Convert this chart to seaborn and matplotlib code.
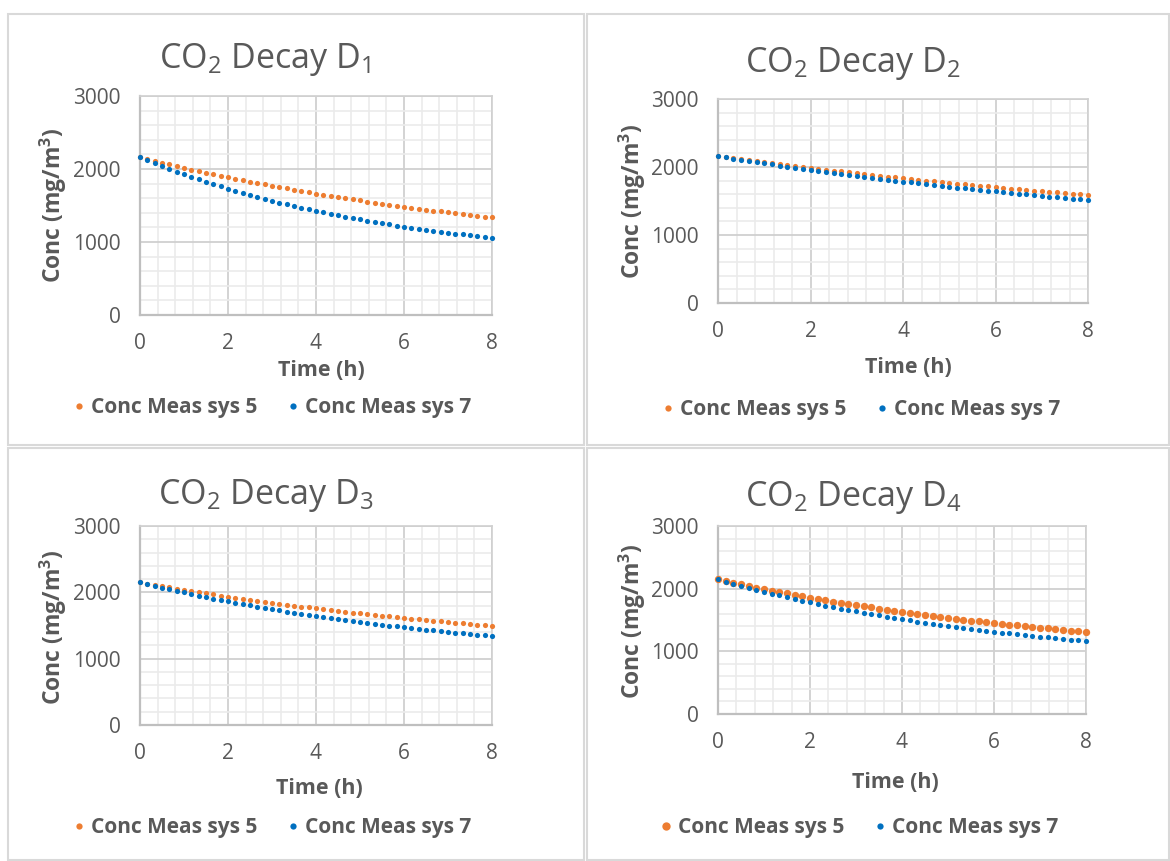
import matplotlib
matplotlib.use("Agg")
import matplotlib.pyplot as plt
from matplotlib.ticker import MultipleLocator
from matplotlib.patches import Rectangle
from matplotlib.lines import Line2D
import seaborn as sns
import pandas as pd

# ---------------- data ----------------
time_min = [0, 10, 20, 30, 40, 50, 60, 70, 80, 90, 100, 110, 120, 130, 140, 150,
            160, 170, 180, 190, 200, 210, 220, 230, 240, 250, 260, 270, 280, 290,
            300, 310, 320, 330, 340, 350, 360, 370, 380, 390, 400, 410, 420, 430,
            440, 450, 460, 470, 480]

d1_sys5 = [2160, 2135, 2110, 2086, 2062, 2039, 2016, 1993, 1971, 1949, 1928, 1907, 1886,
           1866, 1846, 1826, 1807, 1788, 1769, 1751, 1733, 1715, 1698, 1681, 1664, 1647,
           1631, 1615, 1599, 1584, 1569, 1554, 1539, 1525, 1511, 1497, 1483, 1470, 1456,
           1443, 1431, 1418, 1406, 1394, 1382, 1370, 1359, 1347, 1336]
d1_sys7 = [2160, 2118, 2078, 2039, 2001, 1963, 1927, 1892, 1858, 1825, 1793, 1762, 1731,
           1702, 1673, 1645, 1618, 1592, 1566, 1541, 1517, 1494, 1471, 1449, 1427, 1406,
           1386, 1366, 1347, 1328, 1310, 1292, 1275, 1258, 1242, 1226, 1211, 1196, 1182,
           1168, 1154, 1141, 1128, 1116, 1103, 1092, 1080, 1069, 1058]

d2_sys5 = [2160, 2145, 2129, 2114, 2099, 2085, 2070, 2056, 2042, 2028, 2014, 2000, 1986,
           1973, 1960, 1947, 1934, 1921, 1908, 1896, 1883, 1871, 1859, 1847, 1835, 1823,
           1812, 1801, 1789, 1778, 1767, 1756, 1745, 1735, 1724, 1714, 1704, 1693, 1683,
           1674, 1664, 1654, 1644, 1635, 1626, 1616, 1607, 1598, 1589]
d2_sys7 = [2160, 2142, 2124, 2106, 2089, 2072, 2055, 2038, 2022, 2006, 1989, 1974, 1958,
           1943, 1927, 1912, 1898, 1883, 1869, 1854, 1840, 1827, 1813, 1799, 1786, 1773,
           1760, 1747, 1735, 1722, 1710, 1698, 1686, 1674, 1662, 1651, 1640, 1629, 1618,
           1607, 1596, 1585, 1575, 1564, 1554, 1544, 1534, 1524, 1515]

d3_sys5 = [2151, 2131, 2112, 2093, 2074, 2056, 2038, 2020, 2002, 1985, 1968, 1952, 1935,
           1919, 1903, 1888, 1872, 1857, 1843, 1828, 1814, 1800, 1786, 1772, 1759, 1746,
           1733, 1720, 1707, 1695, 1683, 1671, 1659, 1648, 1637, 1626, 1615, 1604, 1593,
           1583, 1573, 1563, 1553, 1543, 1534, 1524, 1515, 1506, 1497]
d3_sys7 = [2151, 2124, 2098, 2072, 2047, 2022, 1998, 1975, 1951, 1929, 1907, 1885, 1864,
           1843, 1823, 1803, 1784, 1765, 1746, 1728, 1710, 1693, 1676, 1659, 1643, 1627,
           1611, 1596, 1581, 1566, 1552, 1538, 1524, 1511, 1498, 1485, 1473, 1460, 1448,
           1437, 1425, 1414, 1403, 1392, 1382, 1371, 1361, 1351, 1342]

d4_sys5 = [2147, 2120, 2094, 2068, 2043, 2018, 1994, 1970, 1946, 1923, 1901, 1879, 1857,
           1836, 1816, 1795, 1775, 1756, 1737, 1718, 1700, 1682, 1664, 1647, 1630, 1613,
           1597, 1581, 1566, 1550, 1535, 1521, 1506, 1492, 1478, 1465, 1451, 1438, 1425,
           1413, 1401, 1389, 1377, 1365, 1354, 1343, 1332, 1321, 1311]
d4_sys7 = [2147, 2112, 2078, 2045, 2013, 1982, 1951, 1921, 1892, 1863, 1836, 1809, 1782,
           1756, 1731, 1707, 1683, 1660, 1637, 1615, 1594, 1573, 1552, 1532, 1513, 1494,
           1475, 1457, 1440, 1423, 1406, 1389, 1374, 1358, 1343, 1328, 1314, 1300, 1286,
           1273, 1260, 1247, 1235, 1222, 1211, 1199, 1188, 1177, 1167]

titles = [r"CO$_\mathregular{2}$ Decay D$_\mathregular{1}$",
          r"CO$_\mathregular{2}$ Decay D$_\mathregular{2}$",
          r"CO$_\mathregular{2}$ Decay D$_\mathregular{3}$",
          r"CO$_\mathregular{2}$ Decay D$_\mathregular{4}$"]
series_names = ["Conc Meas sys 5", "Conc Meas sys 7"]
x_label = "Time (h)"
y_label = r"Conc (mg/m$^\mathbf{3}$)"
x_ticks = [0, 2, 4, 6, 8]
y_ticks = [0, 1000, 2000, 3000]

# ---------------- style ----------------
sns.set_theme(style="white")
FONT = "Open Sans"
plt.rcParams["font.family"] = [FONT, "DejaVu Sans"]
plt.rcParams["mathtext.fontset"] = "custom"
plt.rcParams["mathtext.rm"] = FONT
plt.rcParams["mathtext.it"] = FONT + ":italic"
plt.rcParams["mathtext.bf"] = FONT + ":bold"

TXT = "#595959"
ORANGE = "#ED7D31"
BLUE = "#0070C0"

W, H = 1170, 861
fig = plt.figure(figsize=(W / 100, H / 100), dpi=100)
fig.patch.set_facecolor("white")

def fx(px):
    return px / W

def fy(py):
    return 1 - py / H

# panel frames (px): x0, y0, x1, y1
frames = [(8, 14, 584, 445), (587, 14, 1169, 445), (8, 448, 584, 860), (587, 448, 1169, 860)]
for x0, y0, x1, y1 in frames:
    fig.add_artist(Rectangle((fx(x0), fy(y1)), fx(x1 - x0), (y1 - y0) / H,
                             transform=fig.transFigure, fill=False,
                             edgecolor="#d9d9d9", lw=1.5))

# axes positions (px): left, top, right, bottom
ax_px = [(140, 96, 492, 315), (718, 99, 1088, 303), (140, 526, 492, 725), (718, 526, 1086, 714)]
title_pos = [(265, 60), (853, 63), (266, 495), (853, 497)]
xlab_pos = [(321, 370), (908, 367), (319, 788), (895, 782)]
ylab_pos = [(53, 205), (632, 201), (53, 627), (632, 621)]
leg_pos = [(272, 408), (861, 410), (272, 828), (859, 828)]

data = [(d1_sys5, d1_sys7), (d2_sys5, d2_sys7), (d3_sys5, d3_sys7), (d4_sys5, d4_sys7)]
orange_size = [14, 14, 14, 28]
blue_size = [14, 14, 14, 14]

time_h = [m / 60 for m in time_min]

for i in range(4):
    l, t, r, b = ax_px[i]
    ax = fig.add_axes([fx(l), fy(b), fx(r - l), (b - t) / H])
    ax.set_facecolor("white")
    s5, s7 = data[i]
    df5 = pd.DataFrame({"t": time_h, "c": s5})
    df7 = pd.DataFrame({"t": time_h, "c": s7})
    sns.scatterplot(data=df5, x="t", y="c", ax=ax, color=ORANGE, s=orange_size[i],
                    linewidth=0, zorder=3, clip_on=False)
    sns.scatterplot(data=df7, x="t", y="c", ax=ax, color=BLUE, s=blue_size[i],
                    linewidth=0, zorder=4, clip_on=False)
    ax.set_xlim(0, 8)
    ax.set_ylim(0, 3000)
    ax.set_xticks(x_ticks)
    ax.set_yticks(y_ticks)
    ax.xaxis.set_minor_locator(MultipleLocator(0.4))
    ax.yaxis.set_minor_locator(MultipleLocator(200))
    ax.grid(which="minor", color="#ebebeb", lw=1.2, zorder=0)
    ax.grid(which="major", color="#d0d0d0", lw=1.3, zorder=1)
    ax.set_axisbelow(True)
    ax.tick_params(axis="both", which="both", length=0, labelsize=15, labelcolor=TXT)
    ax.tick_params(axis="x", pad=13)
    ax.tick_params(axis="y", pad=14)
    for side in ["top", "right"]:
        ax.spines[side].set_color("#d0d0d0")
        ax.spines[side].set_linewidth(1.2)
    for side in ["left", "bottom"]:
        ax.spines[side].set_color("#bfbfbf")
        ax.spines[side].set_linewidth(1.6)
    ax.set_xlabel("")
    ax.set_ylabel("")

    fig.text(fx(title_pos[i][0]), fy(title_pos[i][1]), titles[i], ha="center", va="center",
             fontsize=24.5, color=TXT)
    fig.text(fx(xlab_pos[i][0]), fy(xlab_pos[i][1]), x_label, ha="center", va="center",
             fontsize=15.5, fontweight="bold", color=TXT)
    fig.text(fx(ylab_pos[i][0]), fy(ylab_pos[i][1]), y_label, ha="center", va="center",
             rotation=90, fontsize=16.5, fontweight="bold", color=TXT)

    handles = [Line2D([], [], ls="none", marker="o", color=ORANGE,
                      markersize=4.5 if i < 3 else 6, markeredgewidth=0),
               Line2D([], [], ls="none", marker="o", color=BLUE,
                      markersize=4.5, markeredgewidth=0)]
    leg = ax.legend(handles, series_names, loc="center", ncol=2, frameon=False,
                    bbox_to_anchor=(fx(leg_pos[i][0]), fy(leg_pos[i][1])),
                    bbox_transform=fig.transFigure, handlelength=0.6,
                    handletextpad=0.3, columnspacing=1.4,
                    prop={"size": 15, "weight": "bold"})
    for txt in leg.get_texts():
        txt.set_color(TXT)

fig.savefig("out.png", dpi=100, facecolor="white")
